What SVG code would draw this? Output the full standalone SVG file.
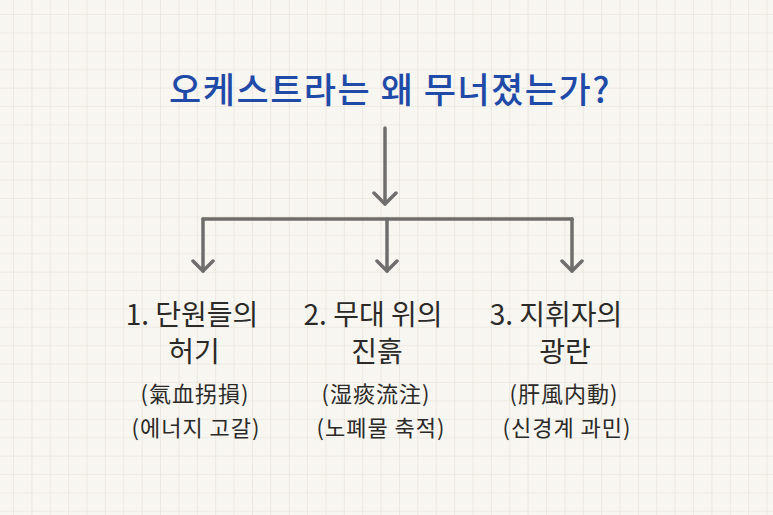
<svg xmlns="http://www.w3.org/2000/svg" width="773" height="515" viewBox="0 0 773 515">
  <defs>
    <pattern id="grid" x="13" y="14" width="18.38" height="18.4" patternUnits="userSpaceOnUse">
      <path d="M0,0 V18.4 M0,0 H18.38" fill="none" stroke="#e4dfd6" stroke-width="1.2"/>
    </pattern>
    <marker id="arrow" viewBox="-14 -14 16 28" markerWidth="16" markerHeight="28" refX="0" refY="0" orient="auto" markerUnits="userSpaceOnUse">
      <path d="M-11,-11 L0,0 L-11,11" fill="none" stroke="#6f6e6c" stroke-width="3.5" stroke-linecap="round" stroke-linejoin="round"/>
    </marker>
    <marker id="arrowS" viewBox="-14 -14 16 28" markerWidth="16" markerHeight="28" refX="0" refY="0" orient="auto" markerUnits="userSpaceOnUse">
      <path d="M-10,-10 L0,0 L-10,10" fill="none" stroke="#6f6e6c" stroke-width="3.5" stroke-linecap="round" stroke-linejoin="round"/>
    </marker>
  </defs>
  <style>
    .t { font-family: "Noto Sans CJK KR", "Noto Sans", sans-serif; text-anchor: middle; fill: #2b2a28; }
    .title { font-size: 35px; font-weight: 500; fill: #1f4aa8; letter-spacing: 1.5px; }
    .h { font-size: 28px; font-weight: 400; }
    .s { font-size: 22px; letter-spacing: 1px; }
    .c { fill: none; stroke: #6f6e6c; stroke-width: 3.5; stroke-linecap: round; stroke-linejoin: round; }
  </style>
  <rect width="773" height="515" fill="#f8f6f1"/>
  <rect width="773" height="515" fill="url(#grid)"/>

  <g id="title">
    <text class="t title" x="390" y="103">오케스트라는 왜 무너졌는가?</text>
  </g>

  <g id="connectors">
    <path class="c" d="M385,128 V204" marker-end="url(#arrow)"/>
    <path class="c" d="M203,219 H572"/>
    <path class="c" d="M203,219 V271" marker-end="url(#arrowS)"/>
    <path class="c" d="M387,219 V271" marker-end="url(#arrowS)"/>
    <path class="c" d="M572,219 V271" marker-end="url(#arrowS)"/>
  </g>

  <g id="node1">
    <text class="t h" x="192" y="325">1. 단원들의</text>
    <text class="t h" x="194" y="362">허기</text>
    <text class="t s" x="195" y="402">(氣血拐損)</text>
    <text class="t s" x="196" y="436">(에너지 고갈)</text>
  </g>

  <g id="node2">
    <text class="t h" x="373" y="325">2. 무대 위의</text>
    <text class="t h" x="377" y="362">진흙</text>
    <text class="t s" x="376" y="402">(湿痰流注)</text>
    <text class="t s" x="381" y="436">(노폐물 축적)</text>
  </g>

  <g id="node3">
    <text class="t h" x="556" y="325">3. 지휘자의</text>
    <text class="t h" x="565" y="362">광란</text>
    <text class="t s" x="564" y="402">(肝風内動)</text>
    <text class="t s" x="567" y="436">(신경계 과민)</text>
  </g>
</svg>
